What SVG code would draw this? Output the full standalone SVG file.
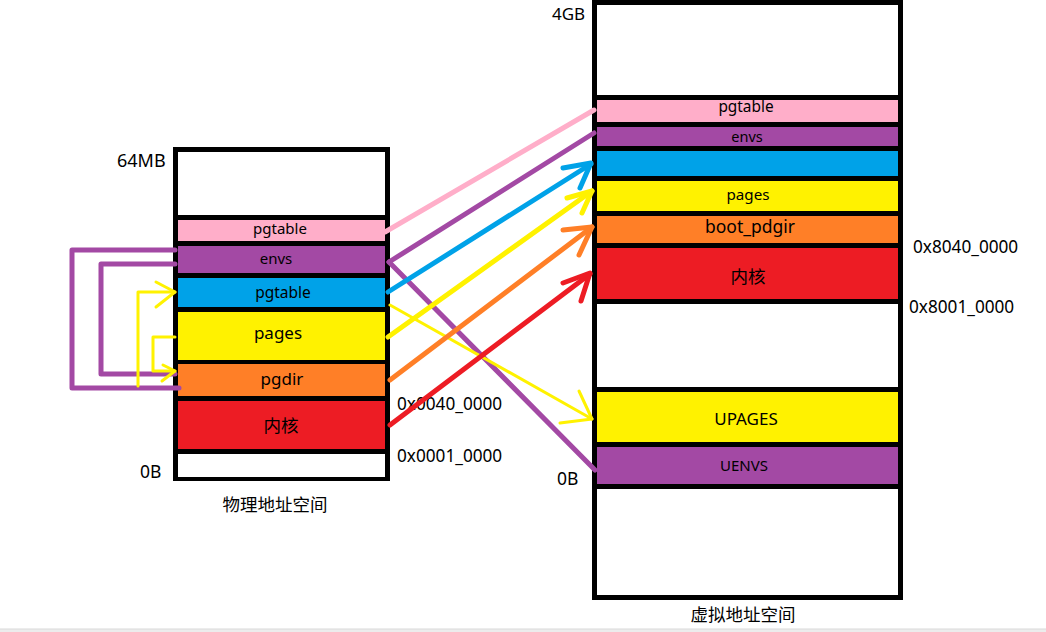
<svg xmlns="http://www.w3.org/2000/svg" width="1046" height="632" viewBox="0 0 1046 632">
<style>
text{font-family:"Noto Sans","Noto Sans CJK SC",sans-serif;fill:#000}
.lbl{text-anchor:middle}
.c{fill:none;stroke-linecap:round;stroke-linejoin:round}
.w5{stroke-width:5}
.w3{stroke-width:3}
.pink{fill:#FFAEC9}.purple{fill:#A349A4}.blue{fill:#00A2E8}.yellow{fill:#FFF200}.orange{fill:#FF7F27}.red{fill:#ED1C24}.white{fill:#fff}
</style>
<rect width="1046" height="632" fill="#fff"/>
<rect x="0" y="629" width="1046" height="3" fill="#ececec"/>
<line x1="0" y1="629" x2="1046" y2="629" stroke="#d9d9d9" stroke-width="1"/>

<g id="physical">
<rect x="173" y="147" width="217" height="334" fill="#000"/>
<rect class="white" x="178" y="152" width="207" height="63"/>
<rect class="pink" x="178" y="220" width="207" height="21"/>
<rect class="purple" x="178" y="246" width="207" height="27"/>
<rect class="blue" x="178" y="278" width="207" height="29"/>
<rect class="yellow" x="178" y="312" width="207" height="48"/>
<rect class="orange" x="178" y="364" width="207" height="32"/>
<rect class="red" x="178" y="401" width="207" height="48"/>
<rect class="white" x="178" y="454" width="207" height="23"/>
<text class="lbl" x="280" y="234" font-size="15">pgtable</text>
<text class="lbl" x="276" y="264" font-size="15">envs</text>
<text class="lbl" x="283" y="298" font-size="15.5">pgtable</text>
<text class="lbl" x="278" y="339" font-size="17">pages</text>
<text class="lbl" x="282" y="385" font-size="17">pgdir</text>
<text class="lbl" x="281" y="432" font-size="17.5">内核</text>
<text x="117" y="167" font-size="18">64MB</text>
<text x="140" y="478" font-size="17.5">0B</text>
<text x="397" y="410" font-size="17.2">0x0040_0000</text>
<text x="397" y="462" font-size="17.2">0x0001_0000</text>
<text class="lbl" x="275" y="511" font-size="17.5">物理地址空间</text>
</g>

<g id="virtual">
<rect x="592" y="0" width="311" height="600" fill="#000"/>
<rect class="white" x="597" y="5" width="301" height="90"/>
<rect class="pink" x="597" y="100" width="301" height="22"/>
<rect class="purple" x="597" y="127" width="301" height="19"/>
<rect class="blue" x="597" y="151" width="301" height="25"/>
<rect class="yellow" x="597" y="181" width="301" height="30"/>
<rect class="orange" x="597" y="216" width="301" height="27"/>
<rect class="red" x="597" y="248" width="301" height="51"/>
<rect class="white" x="597" y="304" width="301" height="83"/>
<rect class="yellow" x="597" y="392" width="301" height="50"/>
<rect class="purple" x="597" y="447" width="301" height="37"/>
<rect class="white" x="597" y="489" width="301" height="106"/>
<text class="lbl" x="746" y="112" font-size="15.4">pgtable</text>
<text class="lbl" x="747" y="142" font-size="14.5">envs</text>
<text class="lbl" x="748" y="200" font-size="15.2">pages</text>
<text class="lbl" x="750" y="233" font-size="17.5">boot_pdgir</text>
<text class="lbl" x="748" y="283" font-size="17.5">内核</text>
<text class="lbl" x="746" y="425" font-size="17">UPAGES</text>
<text class="lbl" x="744" y="471" font-size="15">UENVS</text>
<text x="552" y="20" font-size="17">4GB</text>
<text x="557" y="485" font-size="17.5">0B</text>
<text x="913" y="253" font-size="17.2">0x8040_0000</text>
<text x="909" y="313" font-size="17.2">0x8001_0000</text>
<text class="lbl" x="743" y="621" font-size="17.5">虚拟地址空间</text>
</g>

<g id="connectors">
<polyline class="c w5" stroke="#A349A4" points="175,250 72,250 72,388 179,388"/>
<polyline class="c w5" stroke="#A349A4" points="175,264 101,264 101,374 175,374"/>
<polyline class="c w3" stroke="#FFF200" points="138,386 138,292 175,292"/>
<polyline class="c w3" stroke="#FFF200" points="156,282 175,292 156,307"/>
<polyline class="c w3" stroke="#FFF200" points="175,337 153,337 153,371 175,371"/>
<polyline class="c w3" stroke="#FFF200" points="163,365 175,371 162,381"/>

<line class="c w5" stroke="#FFAEC9" x1="385" y1="232" x2="594" y2="110"/>
<line class="c w5" stroke="#A349A4" x1="389" y1="262" x2="594" y2="133"/>
<line class="c w5" stroke="#A349A4" x1="389" y1="262" x2="595" y2="470"/>
<line class="c w3" stroke="#FFF200" x1="390" y1="305" x2="592" y2="419"/>
<polyline class="c w3" stroke="#FFF200" points="579,391 592,419 560,423"/>
<line class="c w5" stroke="#00A2E8" x1="388" y1="292" x2="591" y2="164"/>
<polyline class="c w5" stroke="#00A2E8" points="563,168 591,163 580,188"/>
<line class="c w5" stroke="#FFF200" x1="388" y1="337" x2="592" y2="191"/>
<polyline class="c w5" stroke="#FFF200" points="567,198 592,191 582,213"/>
<line class="c w5" stroke="#FF7F27" x1="390" y1="380" x2="592" y2="227"/>
<polyline class="c w5" stroke="#FF7F27" points="563,230 592,227 579,255"/>
<line class="c w5" stroke="#ED1C24" x1="390" y1="425" x2="590" y2="274"/>
<polyline class="c w5" stroke="#ED1C24" points="563,283 590,273 581,301"/>
</g>
</svg>
